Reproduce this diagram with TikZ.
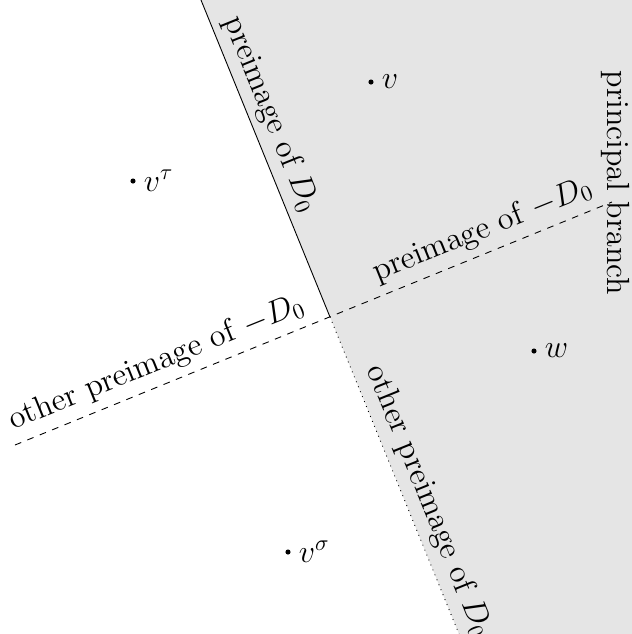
\documentclass[tikz,border=0pt]{standalone}
\begin{document}
\begin{tikzpicture}[x=0.449pt,y=-0.449pt,
  lbl/.style={font=\Large, anchor=south, inner sep=3.33pt},
  pt/.style={circle, fill=black, inner sep=0pt, minimum size=2.3pt},
  ptlbl/.style={font=\Large}]
\useasboundingbox (0,0) rectangle (632,634);
\clip (0,0) rectangle (632,634);
\coordinate (O) at (330,317);
\coordinate (T) at (201,0);
\coordinate (B) at (459,634);
\coordinate (L) at (15,445);
\coordinate (R) at (612,202);
\fill[black!10] (T) -- (O) -- (B) -- (632,634) -- (632,0) -- cycle;
\draw (T) -- (O);
\draw[dotted] (O) -- (B);
\draw[dashed] (L) -- (R);
\node[lbl, rotate=-68] (pD) at (250,123) {preimage of $D_0$};
\node[lbl, rotate=22] (pmD) at (491,251) {preimage of $-D_0$};
\node[lbl, rotate=22] (opmD) at (165,384) {other preimage of $-D_0$};
\node[lbl, rotate=-68] (opD) at (408,510) {other preimage of $D_0$};
\node[font=\Large, rotate=-90] (pb) at (616,183) {principal branch};
\node[pt, label={[ptlbl]right:$v$}] (v) at (371,82) {};
\node[pt, label={[ptlbl]right:$v^\tau$}] (vt) at (133,181) {};
\node[pt, label={[ptlbl]right:$w$}] (w) at (534,351) {};
\node[pt, label={[ptlbl]right:$v^\sigma$}] (vs) at (288,552) {};
\end{tikzpicture}
\end{document}
